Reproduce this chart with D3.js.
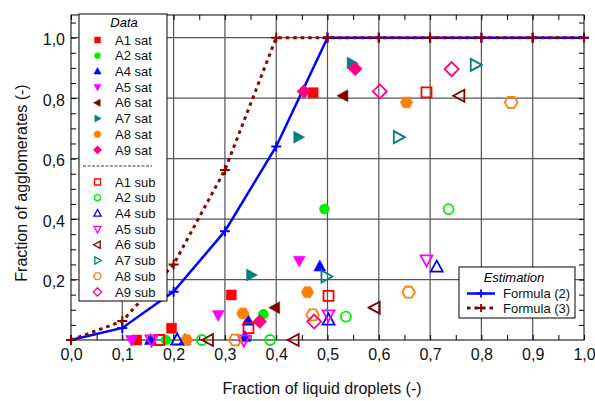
<!DOCTYPE html>
<html>
<head>
<meta charset="utf-8">
<script src="https://cdn.jsdelivr.net/npm/d3@7"></script>
<style>
  body { margin: 0; background: #fff; }
  svg { display: block; font-family: "Liberation Sans", Arial, sans-serif; }
  .grid-line { stroke: #555; stroke-width: 1.2; }
  .axis path { display: none; }
  .axis line { stroke: #000; }
  .axis text { font-size: 16px; fill: #111; }
</style>
</head>
<body>
<svg id="chart" width="595" height="401" viewBox="0 0 595 401"></svg>
<script>
// tick values (labels use a decimal comma)
const xTicks = [0, 0.1, 0.2, 0.3, 0.4, 0.5, 0.6, 0.7, 0.8, 0.9, 1.0];
const yTicks = [0.2, 0.4, 0.6, 0.8, 1.0];

// estimation curves
const formulaX = [0, 0.1, 0.2, 0.3, 0.4, 0.5, 0.6, 0.7, 0.8, 0.9, 1.0];
const formula2 = [0, 0.04, 0.16, 0.36, 0.64, 1, 1, 1, 1, 1, 1];
const formula3 = [0, 0.0625, 0.25, 0.5625, 1, 1, 1, 1, 1, 1, 1];

// measured points [fraction of liquid droplets, fraction of agglomerates]
const a1Sat = [[0.128, 0], [0.196, 0.039], [0.3125, 0.149], [0.472, 0.818]];
const a2Sat = [[0.185, 0], [0.375, 0.085], [0.494, 0.433]];
const a4Sat = [[0.155, 0], [0.222, 0], [0.339, 0.01], [0.345, 0.064], [0.485, 0.243]];
const a5Sat = [[0.118, 0], [0.287, 0.083], [0.445, 0.262]];
const a6Sat = [[0.398, 0.107], [0.531, 0.808]];
const a7Sat = [[0.351, 0.215], [0.443, 0.671], [0.547, 0.916]];
const a8Sat = [[0.225, 0], [0.335, 0.088], [0.461, 0.158], [0.654, 0.786]];
const a9Sat = [[0.368, 0.061], [0.454, 0.822], [0.554, 0.897]];

const a1Sub = [[0.172, 0], [0.346, 0.039], [0.502, 0.146], [0.693, 0.819]];
const a2Sub = [[0.255, 0], [0.388, 0], [0.536, 0.077], [0.736, 0.433]];
const a4Sub = [[0.207, 0], [0.502, 0.066], [0.713, 0.241]];
const a5Sub = [[0.157, 0], [0.337, 0], [0.502, 0.083], [0.693, 0.265]];
const a6Sub = [[0.268, 0], [0.435, 0], [0.593, 0.107], [0.758, 0.808]];
const a7Sub = [[0.497, 0.21], [0.638, 0.671], [0.788, 0.91]];
const a8Sub = [[0.32, 0], [0.471, 0.083], [0.658, 0.158], [0.858, 0.786]];
const a9Sub = [[0.474, 0.061], [0.602, 0.822], [0.742, 0.896]];

const satSeries = [
  { name: "A1 sat", shape: "square", color: "#ff0000", points: a1Sat },
  { name: "A2 sat", shape: "circle", color: "#00ee00", points: a2Sat },
  { name: "A4 sat", shape: "up", color: "#0000ff", points: a4Sat },
  { name: "A5 sat", shape: "down", color: "#ff00ff", points: a5Sat },
  { name: "A6 sat", shape: "left", color: "#800000", points: a6Sat },
  { name: "A7 sat", shape: "right", color: "#008080", points: a7Sat },
  { name: "A8 sat", shape: "hex", color: "#ff8000", points: a8Sat },
  { name: "A9 sat", shape: "diamond", color: "#ff0080", points: a9Sat }
];
const subSeries = [
  { name: "A1 sub", shape: "square", color: "#ff0000", points: a1Sub },
  { name: "A2 sub", shape: "circle", color: "#00ee00", points: a2Sub },
  { name: "A4 sub", shape: "up", color: "#0000ff", points: a4Sub },
  { name: "A5 sub", shape: "down", color: "#ff00ff", points: a5Sub },
  { name: "A6 sub", shape: "left", color: "#800000", points: a6Sub },
  { name: "A7 sub", shape: "right", color: "#008080", points: a7Sub },
  { name: "A8 sub", shape: "hex", color: "#ff8000", points: a8Sub },
  { name: "A9 sub", shape: "diamond", color: "#ff0080", points: a9Sub }
];

function shapePath(shape, k) {
  const s = v => (v * k).toFixed(2);
  switch (shape) {
    case "square": return `M${s(-5)},${s(-5)}H${s(5)}V${s(5)}H${s(-5)}Z`;
    case "circle": return d3.arc()({ innerRadius: 0, outerRadius: 5 * k, startAngle: 0, endAngle: 2 * Math.PI });
    case "up": return `M0,${s(-6.5)}L${s(6)},${s(4.5)}L${s(-6)},${s(4.5)}Z`;
    case "down": return `M0,${s(6.5)}L${s(6)},${s(-4.5)}L${s(-6)},${s(-4.5)}Z`;
    case "left": return `M${s(-6.5)},0L${s(4.5)},${s(-6)}L${s(4.5)},${s(6)}Z`;
    case "right": return `M${s(6.5)},0L${s(-4.5)},${s(-6)}L${s(-4.5)},${s(6)}Z`;
    case "hex": {
      const pts = d3.range(6).map(i => [6.3 * k * Math.cos(i * Math.PI / 3), 6.3 * k * Math.sin(i * Math.PI / 3)]);
      return "M" + pts.map(p => p.map(v => v.toFixed(2)).join(",")).join("L") + "Z";
    }
    case "diamond": return `M0,${s(-7)}L${s(7)},0L0,${s(7)}L${s(-7)},0Z`;
  }
}

const svg = document.getElementById("chart");
const root = d3.select(svg);
const margin = { top: 15, right: 11, bottom: 61, left: 71 };
const width = 595;
const height = 401;

const xScale = d3.scaleLinear().domain([0, 1]).range([margin.left, width - margin.right]);
const yScale = d3.scaleLinear().domain([0, 1.075]).range([height - margin.bottom, margin.top]);
const commaFormat = v => d3.format(".1f")(v).replace(".", ",");

// grid
root.append("g")
  .selectAll("line")
  .data(xTicks.slice(1, -1))
  .join("line")
  .attr("class", "grid-line")
  .attr("x1", d => xScale(d)).attr("x2", d => xScale(d))
  .attr("y1", margin.top).attr("y2", height - margin.bottom);

root.append("g")
  .selectAll("line")
  .data(yTicks)
  .join("line")
  .attr("class", "grid-line")
  .attr("x1", margin.left).attr("x2", width - margin.right)
  .attr("y1", d => yScale(d)).attr("y2", d => yScale(d));

// minor / major inward ticks
const xMinor = d3.range(0, 1.001, 0.05);
const yMinor = d3.range(0.05, 1.07, 0.05);

root.append("g").attr("class", "axis")
  .attr("transform", `translate(0, ${height - margin.bottom})`)
  .call(d3.axisBottom(xScale).tickValues(xMinor).tickSize(-5).tickFormat(""));
root.append("g").attr("class", "axis")
  .attr("transform", `translate(0, ${margin.top})`)
  .call(d3.axisTop(xScale).tickValues(xMinor).tickSize(-5).tickFormat(""));
root.append("g").attr("class", "axis")
  .attr("transform", `translate(${margin.left}, 0)`)
  .call(d3.axisLeft(yScale).tickValues(yMinor).tickSize(-5).tickFormat(""));
root.append("g").attr("class", "axis")
  .attr("transform", `translate(${width - margin.right}, 0)`)
  .call(d3.axisRight(yScale).tickValues(yMinor).tickSize(-5).tickFormat(""));

// labelled axes
root.append("g").attr("class", "axis")
  .attr("transform", `translate(0, ${height - margin.bottom})`)
  .call(d3.axisBottom(xScale).tickValues(xTicks).tickSize(0).tickPadding(9).tickFormat(commaFormat));
const yAxis = root.append("g").attr("class", "axis")
  .attr("transform", `translate(${margin.left}, 0)`)
  .call(d3.axisLeft(yScale).tickValues(yTicks).tickSize(0).tickPadding(6).tickFormat(commaFormat));
yAxis.selectAll("text").attr("dy", "0.45em");

// frame
root.append("rect")
  .attr("x", margin.left).attr("y", margin.top)
  .attr("width", width - margin.left - margin.right)
  .attr("height", height - margin.top - margin.bottom)
  .attr("fill", "none").attr("stroke", "#000").attr("stroke-width", 1);

// estimation curves
const crossPath = "M-5,0H5M0,-5V5";
const estimations = [
  { name: "Formula (2)", color: "#0000ff", dash: null, width: 2.5, values: formula2 },
  { name: "Formula (3)", color: "#8b0000", dash: "3.5,4", width: 3, values: formula3 }
];
const line = d3.line().x(d => xScale(d[0])).y(d => yScale(d[1]));

for (const est of estimations) {
  const pts = formulaX.map((x, i) => [x, est.values[i]]);
  root.append("path")
    .attr("d", line(pts))
    .attr("fill", "none")
    .attr("stroke", est.color)
    .attr("stroke-width", est.width)
    .attr("stroke-dasharray", est.dash);
  root.append("g")
    .selectAll("path")
    .data(pts)
    .join("path")
    .attr("transform", d => `translate(${xScale(d[0])},${yScale(d[1])})`)
    .attr("d", crossPath)
    .attr("stroke", est.color)
    .attr("stroke-width", 2);
}

// data points
function drawSeries(series, filled) {
  root.append("g")
    .selectAll("path")
    .data(series.points)
    .join("path")
    .attr("transform", d => `translate(${xScale(d[0])},${yScale(d[1])})`)
    .attr("d", shapePath(series.shape, 1))
    .attr("fill", filled ? series.color : "none")
    .attr("stroke", series.color)
    .attr("stroke-width", filled ? 0.5 : 1.8);
}
satSeries.forEach(s => drawSeries(s, true));
subSeries.forEach(s => drawSeries(s, false));

// axis titles
root.append("text")
  .attr("x", 322).attr("y", 394)
  .attr("text-anchor", "middle")
  .attr("font-size", 16).attr("fill", "#111")
  .text("Fraction of liquid droplets (-)");
root.append("text")
  .attr("transform", "translate(27, 183) rotate(-90)")
  .attr("text-anchor", "middle")
  .attr("font-size", 16).attr("fill", "#111")
  .text("Fraction of agglomerates (-)");

// data legend
const legend = root.append("g");
legend.append("rect")
  .attr("x", 79).attr("y", 14).attr("width", 88).attr("height", 287)
  .attr("fill", "#fff").attr("stroke", "#000");
legend.append("text")
  .attr("x", 124).attr("y", 27)
  .attr("text-anchor", "middle").attr("font-size", 13).attr("font-style", "italic")
  .text("Data");
legend.append("line")
  .attr("x1", 83).attr("x2", 152).attr("y1", 166).attr("y2", 166)
  .attr("stroke", "#000").attr("stroke-width", 0.8).attr("stroke-dasharray", "3,1.5");

const legendRows = [
  ...satSeries.map((s, i) => ({ ...s, filled: true, y: 40 + i * 15.7 })),
  ...subSeries.map((s, i) => ({ ...s, filled: false, y: 182 + i * 15.7 }))
];
const rows = legend.selectAll("g.row")
  .data(legendRows)
  .join("g")
  .attr("class", "row")
  .attr("transform", d => `translate(0, ${d.y})`);
rows.append("path")
  .attr("transform", "translate(97.5, 0)")
  .attr("d", d => shapePath(d.shape, 0.6))
  .attr("fill", d => d.filled ? d.color : "none")
  .attr("stroke", d => d.color)
  .attr("stroke-width", d => d.filled ? 0.5 : 1.3);
rows.append("text")
  .attr("x", 115).attr("dy", "0.36em")
  .attr("font-size", 13).attr("fill", "#111")
  .text(d => d.name);

// estimation legend
const legend2 = root.append("g");
legend2.append("rect")
  .attr("x", 459).attr("y", 267).attr("width", 116).attr("height", 51)
  .attr("fill", "#fff").attr("stroke", "#000");
legend2.append("text")
  .attr("x", 514).attr("y", 282)
  .attr("text-anchor", "middle").attr("font-size", 13).attr("font-style", "italic")
  .text("Estimation");
estimations.forEach((est, i) => {
  const y = 293.5 + i * 14.5;
  legend2.append("line")
    .attr("x1", 467).attr("x2", 495).attr("y1", y).attr("y2", y)
    .attr("stroke", est.color).attr("stroke-width", est.width)
    .attr("stroke-dasharray", est.dash);
  legend2.append("path")
    .attr("transform", `translate(481, ${y})`)
    .attr("d", "M-4,0H4M0,-4V4")
    .attr("stroke", est.color).attr("stroke-width", 1.8);
  legend2.append("text")
    .attr("x", 503).attr("y", y).attr("dy", "0.36em")
    .attr("font-size", 13).attr("fill", "#111")
    .text(est.name);
});
</script>
</body>
</html>
